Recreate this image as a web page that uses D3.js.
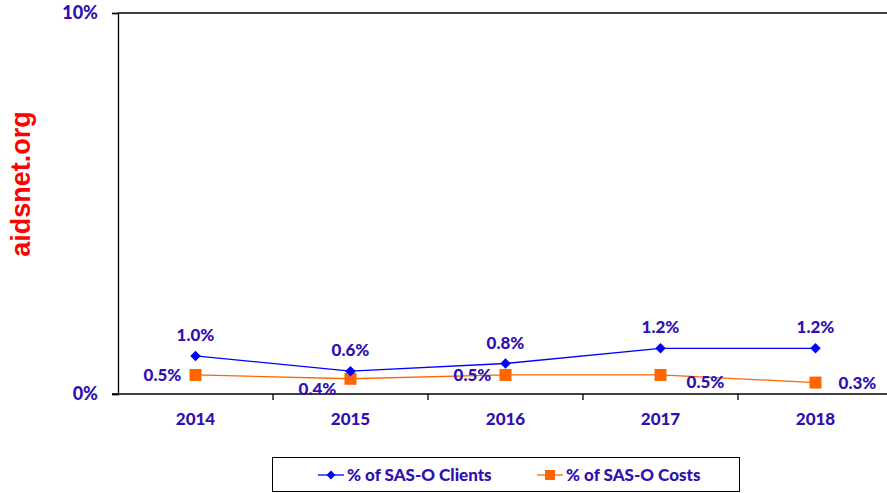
<!DOCTYPE html>
<html>
<head>
<meta charset="utf-8">
<title>SAS-O Clients and Costs</title>
<script src="https://d3js.org/d3.v7.min.js"></script>
<style>
  body { margin: 0; background: #fff; }
  text { font-family: Lato, "Open Sans", sans-serif; font-weight: 900; }
</style>
</head>
<body>
<svg width="887" height="493"></svg>
<script>
const years = ["2014", "2015", "2016", "2017", "2018"]
const clients = [0.010, 0.006, 0.008, 0.012, 0.012]
const costs = [0.005, 0.004, 0.005, 0.005, 0.003]
const yTicks = [0, 0.10]
const seriesNames = ["% of SAS-O Clients", "% of SAS-O Costs"]
// where each cost label sits relative to its point
const costLabelPos = ["left", "belowLeft", "left", "belowRight", "right"]

const svg = d3.select("svg")
const textColor = "#3010b0"
const blue = "#0000ff"
const orange = "#ff6600"

const margin = { top: 13, left: 118, bottom: 99 }
const plotBottom = 493 - margin.bottom

const x = d3.scaleBand().domain(years).range([margin.left, margin.left + 155 * years.length])
const y = d3.scaleLinear().domain([0, 0.10]).range([plotBottom, margin.top])
const cx = d => x(d) + x.bandwidth() / 2

// watermark
svg.append("text")
    .attr("transform", "translate(30,184) rotate(-90)")
    .attr("text-anchor", "middle")
    .style("font-family", "'Liberation Sans', Arial, sans-serif")
    .style("font-weight", "bold")
    .style("font-size", "27px")
    .attr("fill", "#ff0000")
    .text("aidsnet.org")

// top gridline
svg.append("line")
    .attr("x1", margin.left).attr("x2", 887)
    .attr("y1", y(0.10)).attr("y2", y(0.10))
    .attr("stroke", "#000").attr("stroke-width", 1.3)

// y axis
const yAxis = d3.axisLeft(y).tickValues(yTicks).tickFormat(d3.format(".0%")).tickSize(6).tickPadding(14)
const gy = svg.append("g").attr("transform", `translate(${margin.left},0)`).call(yAxis)
gy.select(".domain").attr("stroke", "#000").attr("stroke-width", 1.3)
gy.selectAll(".tick line").attr("stroke", "#000").attr("stroke-width", 1.3)
gy.selectAll(".tick text")
    .attr("fill", textColor)
    .style("font-size", "18px")

// x axis
const xAxis = d3.axisBottom(x).tickSize(0).tickPadding(19)
const gx = svg.append("g").attr("transform", `translate(0,${plotBottom})`).call(xAxis)
gx.select(".domain").remove()
gx.selectAll(".tick text").attr("fill", textColor).style("font-size", "17px")
svg.append("line")
    .attr("x1", margin.left - 6).attr("x2", 887)
    .attr("y1", plotBottom).attr("y2", plotBottom)
    .attr("stroke", "#000").attr("stroke-width", 1.3)
svg.selectAll(".xtick")
    .data(years.slice(1))
    .enter().append("line")
    .attr("x1", d => x(d)).attr("x2", d => x(d))
    .attr("y1", plotBottom).attr("y2", plotBottom + 6)
    .attr("stroke", "#000").attr("stroke-width", 1.3)

const line = d3.line().x((d, i) => cx(years[i])).y(d => y(d))

// costs series
svg.append("path").datum(costs)
    .attr("d", line).attr("fill", "none")
    .attr("stroke", orange).attr("stroke-width", 1.3)
svg.selectAll(".costPt").data(costs).enter().append("rect")
    .attr("x", (d, i) => cx(years[i]) - 6)
    .attr("y", d => y(d) - 6)
    .attr("width", 12).attr("height", 12)
    .attr("fill", orange)

// clients series
svg.append("path").datum(clients)
    .attr("d", line).attr("fill", "none")
    .attr("stroke", blue).attr("stroke-width", 1.3)
const diamond = d3.symbol().type(d3.symbolDiamond2).size(70)
svg.selectAll(".cliPt").data(clients).enter().append("path")
    .attr("d", diamond)
    .attr("transform", (d, i) => `translate(${cx(years[i])},${y(d)})`)
    .attr("fill", blue)

const pct = d3.format(".1%")

svg.selectAll(".cliLbl").data(clients).enter().append("text")
    .attr("x", (d, i) => cx(years[i]))
    .attr("y", d => y(d) - 15)
    .attr("text-anchor", "middle")
    .attr("fill", textColor)
    .style("font-size", "17px")
    .text(d => pct(d))

const offs = {
    left: [-33, 6],
    belowLeft: [-33, 16],
    belowRight: [45, 13],
    right: [42, 6],
}
svg.selectAll(".costLbl").data(costs).enter().append("text")
    .attr("x", (d, i) => cx(years[i]) + offs[costLabelPos[i]][0])
    .attr("y", (d, i) => y(d) + offs[costLabelPos[i]][1])
    .attr("text-anchor", "middle")
    .attr("fill", textColor)
    .style("font-size", "17px")
    .text(d => pct(d))

// legend
const lg = svg.append("g")
lg.append("rect")
    .attr("x", 272.5).attr("y", 457.5).attr("width", 467).attr("height", 34)
    .attr("fill", "#fff").attr("stroke", "#000").attr("stroke-width", 1)
const legendItems = [
    { name: seriesNames[0], color: blue, x0: 318, mark: "diamond" },
    { name: seriesNames[1], color: orange, x0: 537, mark: "square" },
]
legendItems.forEach(it => {
    lg.append("line")
        .attr("x1", it.x0).attr("x2", it.x0 + 26)
        .attr("y1", 475).attr("y2", 475)
        .attr("stroke", it.color).attr("stroke-width", 1.3)
    if (it.mark === "diamond") {
        lg.append("path").attr("d", d3.symbol().type(d3.symbolDiamond2).size(50))
            .attr("transform", `translate(${it.x0 + 13},475)`).attr("fill", it.color)
    } else {
        lg.append("rect").attr("x", it.x0 + 8).attr("y", 470).attr("width", 10).attr("height", 10)
            .attr("fill", it.color)
    }
    lg.append("text")
        .attr("x", it.x0 + 29).attr("y", 481)
        .attr("fill", textColor)
        .style("font-size", "17px")
        .text(it.name)
})
</script>
</body>
</html>
